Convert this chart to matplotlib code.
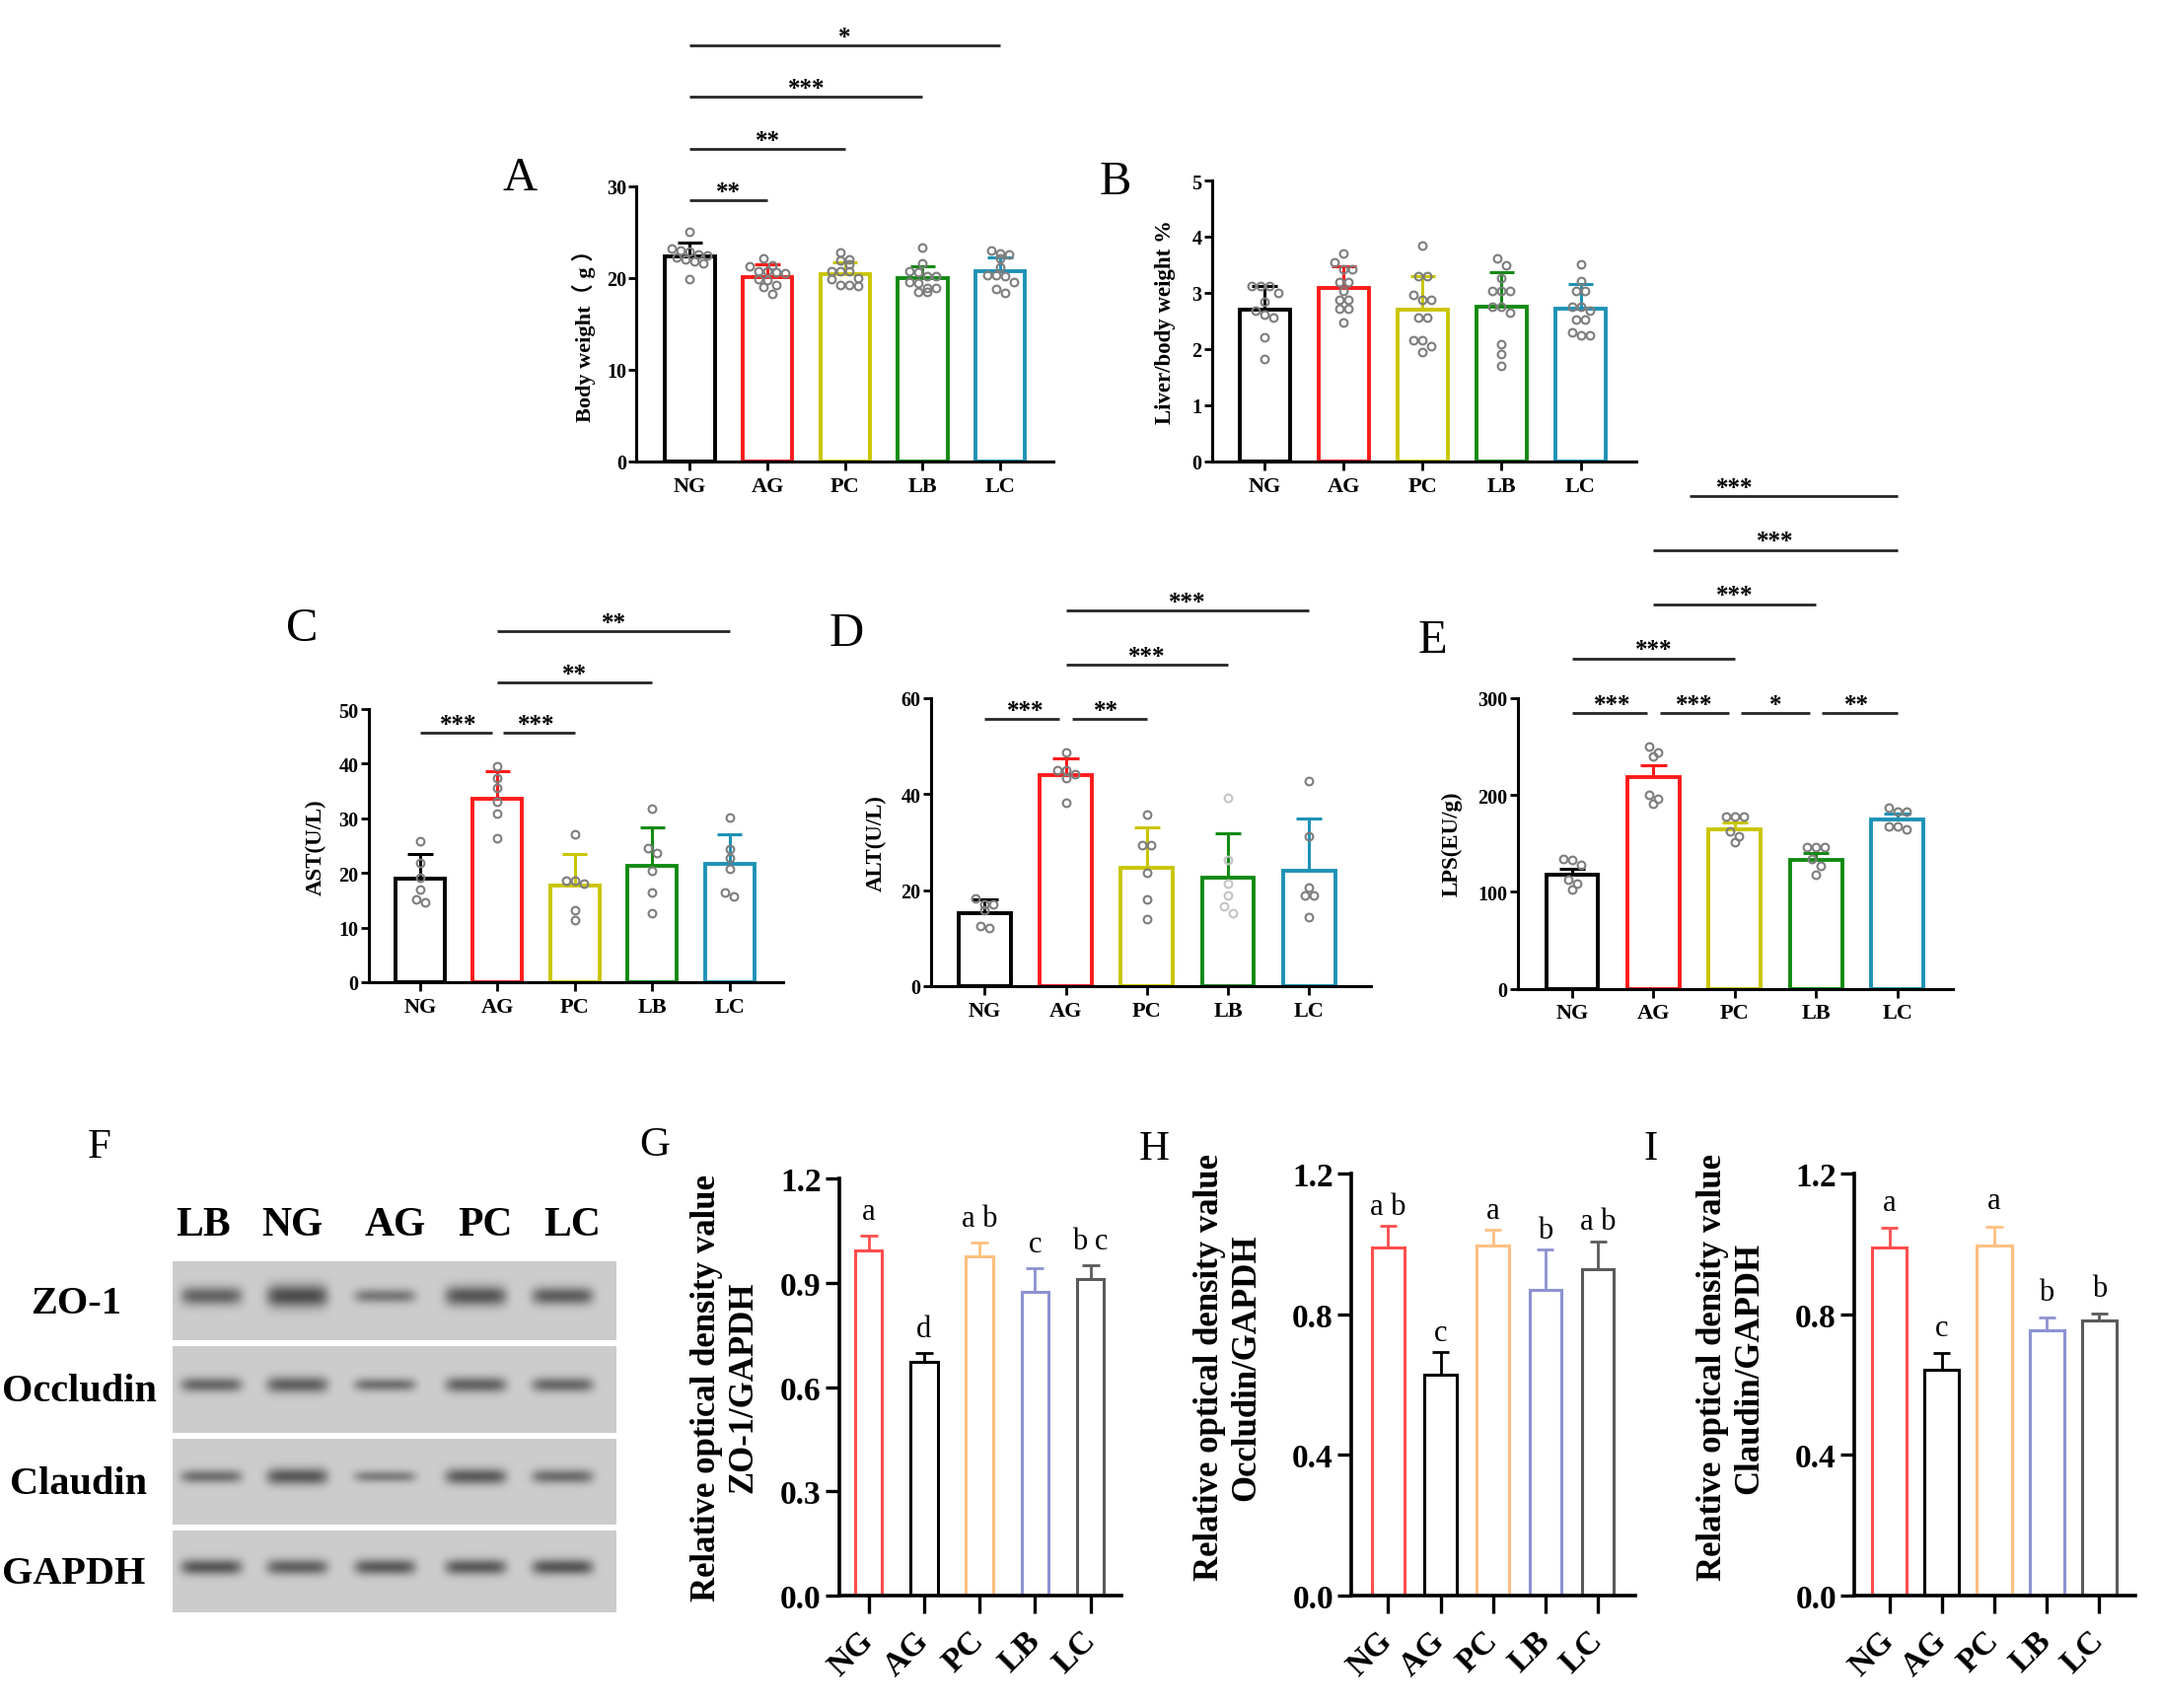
import numpy as np
import matplotlib
matplotlib.use('Agg')
import matplotlib.pyplot as plt

W, H = 2191, 1733
DPI = 100
plt.rcParams['font.family'] = ['Liberation Serif', 'Noto Sans CJK SC', 'DejaVu Sans']

groups = ['NG', 'AG', 'PC', 'LB', 'LC']

# ---------------- Panel A : body weight ----------------
a_mean = [22.4, 20.1, 20.4, 19.95, 20.7]
a_sd = [1.45, 1.4, 1.3, 1.35, 1.6]
a_pts = [[25.0, 23.2, 23.0, 22.9, 22.6, 22.5, 22.3, 22.0, 21.8, 21.6, 19.9],
         [22.2, 21.4, 21.3, 20.8, 20.7, 20.6, 20.5, 19.9, 19.8, 19.2, 19.0, 18.3],
         [22.8, 22.0, 21.9, 21.5, 20.8, 20.8, 20.7, 20.0, 19.9, 19.2, 19.2, 19.1],
         [23.3, 21.6, 20.7, 20.6, 20.2, 20.2, 19.6, 19.5, 18.9, 18.9, 18.5, 18.5],
         [23.0, 22.7, 22.6, 22.1, 21.2, 20.3, 20.3, 20.2, 19.6, 18.8, 18.4]]
a_sig = [(0, 1, 28.5, '**', None), (0, 2, 34.1, '**', None),
         (0, 3, 39.8, '***', None), (0, 4, 45.4, '*', None)]

# ---------------- Panel B : liver / body weight ----------------
b_mean = [2.70, 3.08, 2.70, 2.75, 2.72]
b_sd = [0.42, 0.40, 0.60, 0.62, 0.43]
b_pts = [[3.12, 3.12, 3.12, 3.00, 2.85, 2.68, 2.62, 2.56, 2.21, 1.83],
         [3.70, 3.55, 3.42, 3.42, 3.20, 3.20, 3.03, 2.88, 2.88, 2.72, 2.72, 2.47],
         [3.85, 3.29, 3.29, 2.97, 2.88, 2.88, 2.56, 2.56, 2.15, 2.15, 2.06, 1.94],
         [3.61, 3.50, 3.26, 3.03, 3.03, 3.03, 2.75, 2.75, 2.65, 2.09, 1.91, 1.71],
         [3.51, 3.21, 3.04, 3.04, 2.75, 2.75, 2.68, 2.53, 2.53, 2.30, 2.24, 2.24]]

# ---------------- Panel C : AST ----------------
c_mean = [18.9, 33.6, 17.7, 21.3, 21.6]
c_sd = [4.5, 5.0, 5.7, 7.0, 5.4]
c_pts = [[25.9, 21.9, 19.2, 16.9, 15.1, 14.7],
         [39.5, 37.4, 35.6, 33.0, 30.8, 26.4],
         [27.0, 18.6, 18.6, 18.1, 13.2, 11.4],
         [31.7, 24.6, 23.7, 20.4, 16.5, 12.7],
         [30.2, 24.3, 22.7, 20.8, 16.5, 15.7]]
c_sig = [(0, 1, 45.6, '***', None), (1, 2, 45.6, '***', None),
         (1, 3, 54.8, '**', None), (1, 4, 64.2, '**', None)]

# ---------------- Panel D : ALT ----------------
d_mean = [15.2, 43.9, 24.7, 22.6, 24.0]
d_sd = [2.8, 3.6, 8.4, 9.2, 10.9]
d_pts = [[18.3, 17.0, 17.0, 15.9, 12.6, 12.1],
         [48.7, 45.0, 45.0, 44.1, 43.4, 38.2],
         [35.8, 29.4, 29.4, 23.7, 18.1, 14.0],
         [39.2, 26.4, 21.4, 18.9, 16.6, 15.2],
         [42.7, 31.2, 20.6, 19.0, 19.0, 14.3]]
d_sig = [(0, 1, 55.6, '***', None), (1, 2, 55.6, '**', None),
         (1, 3, 66.9, '***', None), (1, 4, 78.2, '***', None)]

# ---------------- Panel E : LPS ----------------
e_mean = [117.6, 218.0, 165.0, 132.5, 174.5]
e_sd = [5.9, 12.6, 6.8, 7.9, 5.9]
e_pts = [[134, 133, 128, 113, 108, 102],
         [250, 244, 240, 200, 196, 191],
         [178, 178, 178, 162, 157, 151],
         [146, 146, 146, 134, 127, 118],
         [187, 183, 183, 168, 168, 165]]
e_sig = [(0, 1, 285.1, '***', None), (1, 2, 285.1, '***', None),
         (2, 3, 285.1, '*', None), (3, 4, 285.1, '**', None),
         (0, 2, 341.2, '***', None), (1, 3, 397.2, '***', None),
         (1, 4, 453.3, '***', None), (1.45, 4, 509.0, '***', 2.0)]

# ---------------- Panel F : western blot ----------------
blot_proteins = ['ZO-1', 'Occludin', 'Claudin', 'GAPDH']
blot_lanes = ['LB', 'NG', 'AG', 'PC', 'LC']
band_strength = [[0.78, 0.95, 0.62, 0.88, 0.82],
                 [0.74, 0.80, 0.68, 0.78, 0.74],
                 [0.68, 0.86, 0.58, 0.84, 0.70],
                 [0.86, 0.80, 0.84, 0.85, 0.88]]
band_thick = [[1.10, 1.35, 0.85, 1.20, 1.05],
              [0.90, 1.00, 0.80, 0.95, 0.90],
              [0.80, 1.00, 0.70, 0.95, 0.85],
              [0.95, 0.95, 0.95, 0.95, 0.95]]

# ---------------- Panels G, H, I ----------------
g_mean = [0.992, 0.673, 0.976, 0.873, 0.911]
g_err = [0.043, 0.025, 0.041, 0.070, 0.040]
g_let = ['a', 'd', 'a b', 'c', 'b c']
h_mean = [0.991, 0.627, 0.994, 0.870, 0.929]
h_err = [0.060, 0.065, 0.045, 0.113, 0.078]
h_let = ['a b', 'c', 'a', 'b', 'a b']
i_mean = [0.991, 0.641, 0.996, 0.754, 0.781]
i_err = [0.054, 0.049, 0.054, 0.037, 0.021]
i_let = ['a', 'c', 'a', 'b', 'b']

ae_colors = ['#000000', '#ff1a1a', '#c9c500', '#138a13', '#1e92b6']
gi_colors = ['#ff4d4d', '#000000', '#ffbf80', '#8c92d2', '#5a5a5a']

fig = plt.figure(figsize=(W / DPI, H / DPI), dpi=DPI)


def add_panel(axis_x, ng_x, sp, right_x, top_y, bottom_y):
    ax = fig.add_axes([axis_x / W, 1 - bottom_y / H,
                       (right_x - axis_x) / W, (bottom_y - top_y) / H])
    ax.set_xlim((axis_x - ng_x) / sp, (right_x - ng_x) / sp)
    return ax


def ftext(x, y, s, **kw):
    return fig.text(x / W, 1 - y / H, s, **kw)


def style_axes(ax, ymax, yticks, ylabels, spw, tw, ylen, xlen, ypad, xpad, yls, xls):
    ax.set_ylim(0, ymax)
    ax.set_yticks(yticks)
    ax.set_yticklabels(ylabels)
    ax.set_xticks(range(len(groups)))
    ax.set_xticklabels(groups)
    for s in ['top', 'right']:
        ax.spines[s].set_visible(False)
    for s in ['left', 'bottom']:
        ax.spines[s].set_linewidth(spw)
        ax.spines[s].set_zorder(6)
    ax.tick_params(axis='y', length=ylen, width=tw, pad=ypad, labelsize=yls)
    ax.tick_params(axis='x', length=xlen, width=tw, pad=xpad, labelsize=xls)
    for lab in ax.get_xticklabels() + ax.get_yticklabels():
        lab.set_fontweight('bold')
    ax.patch.set_alpha(0)


def draw_bars(ax, means, errs, colors, width, lw, cap, elw):
    x = np.arange(len(means))
    ax.bar(x, means, width=width, facecolor='none', edgecolor=colors,
           linewidth=lw, zorder=2)
    for xi, m, e, c in zip(x, means, errs, colors):
        ax.plot([xi, xi], [m, m + e], color=c, lw=elw, solid_capstyle='butt', zorder=3)
        ax.plot([xi - cap, xi + cap], [m + e, m + e], color=c, lw=elw,
                solid_capstyle='butt', zorder=3)


def swarm_x(ax, values, xc, d_px):
    vals = np.asarray(values, float)
    order = np.argsort(-vals, kind='stable')
    pts = np.column_stack([np.full(len(vals), float(xc)), vals])
    ypx = ax.transData.transform(pts)[:, 1]
    unit = ax.transData.transform([[xc + 1, 0]])[0, 0] - ax.transData.transform([[xc, 0]])[0, 0]
    xs = np.full(len(vals), float(xc))
    clusters, cur = [], [order[0]]
    for idx in order[1:]:
        if abs(ypx[idx] - ypx[cur[0]]) < d_px * 0.85:
            cur.append(idx)
        else:
            clusters.append(cur)
            cur = [idx]
    clusters.append(cur)
    for cl in clusters:
        n = len(cl)
        for k, idx in enumerate(cl):
            xs[idx] = xc + (k - (n - 1) / 2) * d_px / unit
    return xs


def draw_points(ax, pts_list, colors=None):
    for i, p in enumerate(pts_list):
        c = '#7d7d7d' if colors is None else colors[i]
        xs = swarm_x(ax, p, i, 9.0)
        ax.plot(xs, p, 'o', ms=5.6, mfc='none', mec=c, mew=1.5, zorder=4, clip_on=False)


def draw_sig(ax, sigs, gap=0.075, lw=2.0, fs=18):
    for k, (i, j, y, lab, lx) in enumerate(sigs):
        x0, x1 = i, j
        for m, (i2, j2, y2, _l, _x) in enumerate(sigs):
            if m == k or y2 != y:
                continue
            if j2 == i:
                x0 = i + gap
            if i2 == j:
                x1 = j - gap
        ax.plot([x0, x1], [y, y], color='#262626', lw=lw, clip_on=False,
                solid_capstyle='butt')
        xm = (i + j) / 2 if lx is None else lx
        ax.annotate(lab, (xm, y), xytext=(0, 1.5), textcoords='offset points',
                    ha='center', va='baseline', fontsize=fs, fontweight='bold',
                    annotation_clip=False)


def ae_panel(geom, means, sds, pts, ymax, yticks, sig=None, pcolors=None):
    ax = add_panel(*geom)
    style_axes(ax, ymax, yticks, [str(t) for t in yticks], 2.2, 2.0, 5.5, 6.5, 2, 4,
               14.5, 16)
    draw_bars(ax, means, sds, ae_colors, 0.64, 2.8, 0.16, 2.2)
    draw_points(ax, pts, pcolors)
    if sig:
        draw_sig(ax, sig)
    return ax


axA = ae_panel((645.4, 699.4, 78.65, 1068, 190, 469), a_mean, a_sd, a_pts, 30,
               [0, 10, 20, 30], a_sig)
axB = ae_panel((1228.7, 1282.3, 80.06, 1658.6, 184, 469), b_mean, b_sd, b_pts, 5,
               [0, 1, 2, 3, 4, 5])
axC = ae_panel((374, 426, 78.4, 794, 720, 997), c_mean, c_sd, c_pts, 50,
               [0, 10, 20, 30, 40, 50], c_sig)
axD = ae_panel((944, 998.4, 82.2, 1390, 709, 1001), d_mean, d_sd, d_pts, 60,
               [0, 20, 40, 60], d_sig,
               pcolors=['#7d7d7d', '#7d7d7d', '#7d7d7d', '#c4c4c4', '#7d7d7d'])
axE = ae_panel((1538.5, 1594, 82.4, 1980, 709, 1003.5), e_mean, e_sd, e_pts, 300,
               [0, 100, 200, 300], e_sig)

# y labels A-E
ftext(592, 335, 'Body weight（ g ）', rotation=90, ha='center', va='center',
      fontsize=16, fontweight='bold')
ftext(1181, 327, 'Liver/body weight %', rotation=90, ha='center', va='center',
      fontsize=16.5, fontweight='bold')
ftext(320, 859, 'AST(U/L)', rotation=90, ha='center', va='center',
      fontsize=16.5, fontweight='bold')
ftext(888, 855, 'ALT(U/L)', rotation=90, ha='center', va='center',
      fontsize=16.5, fontweight='bold')
ftext(1472, 856, 'LPS(EU/g)', rotation=90, ha='center', va='center',
      fontsize=16.5, fontweight='bold')

# panel letters
for lab, x, y, fs in [('A', 509, 193, 35), ('B', 1115, 197, 35), ('C', 290, 650, 35),
                      ('D', 841, 655, 35), ('E', 1438, 662, 35), ('F', 89, 1174, 31),
                      ('G', 648, 1172, 31), ('H', 1155, 1176, 31), ('I', 1667, 1176, 31)]:
    ftext(x, y, lab, ha='left', va='baseline', fontsize=fs)

# ---------------- Panel F drawing ----------------
blot_x0, blot_x1 = 175, 625
row_boxes = [(1280, 1360), (1366, 1454), (1460, 1547), (1553, 1636)]
lane_px = [214, 301, 390, 482, 570]
lane_label_x = [206, 296, 401, 492, 580]
row_label_x = [77, 80, 80, 75]
bg_val = 0.80
for r, (y0, y1) in enumerate(row_boxes):
    ax = fig.add_axes([blot_x0 / W, 1 - y1 / H, (blot_x1 - blot_x0) / W, (y1 - y0) / H])
    hgt = y1 - y0
    wid = blot_x1 - blot_x0
    yy, xx = np.mgrid[0:hgt, 0:wid]
    img = np.full((hgt, wid), bg_val)
    yc = hgt * 0.44
    for l, lx in enumerate(lane_px):
        xc = lx - blot_x0
        shape = np.exp(-((xx - xc) / 31.0) ** 6) * np.exp(-((yy - yc) / (8.5 * band_thick[r][l])) ** 2)
        img -= (bg_val - 0.28) * band_strength[r][l] * shape
    ax.imshow(img, cmap='gray', vmin=0, vmax=1, aspect='auto', interpolation='bilinear')
    ax.set_axis_off()
    ftext(row_label_x[r], (y0 + y1) / 2 + 2, blot_proteins[r], ha='center', va='center',
          fontsize=29, fontweight='bold')
for l, lab in enumerate(blot_lanes):
    ftext(lane_label_x[l], 1243, lab, ha='center', va='center', fontsize=30,
          fontweight='bold')


# ---------------- Panels G-I ----------------
def gi_panel(geom, means, errs, letters, yticks, width, let_gap, ylab, lab_xy):
    ax = add_panel(*geom)
    style_axes(ax, 1.2, yticks, [f'{t:.1f}' for t in yticks], 2.6, 2.4, 10, 13, 3, 16,
               24, 24)
    for lab in ax.get_xticklabels():
        lab.set_rotation(45)
        lab.set_ha('right')
        lab.set_va('center')
        lab.set_rotation_mode('anchor')
    draw_bars(ax, means, errs, gi_colors, width, 2.2, 0.16, 2.0)
    for i, (m, e, t) in enumerate(zip(means, errs, letters)):
        ax.annotate(t, (i, m + e), xytext=(0, let_gap), textcoords='offset points',
                    ha='center', va='baseline', fontsize=22, annotation_clip=False)
    ftext(lab_xy[0], lab_xy[1], ylab, rotation=90, ha='center', va='center',
          fontsize=25, fontweight='bold', multialignment='center', linespacing=1.15)
    return ax


gi_panel((850.7, 880.7, 56.25, 1136.7, 1196, 1619), g_mean, g_err, g_let,
         [0.0, 0.3, 0.6, 0.9, 1.2], 0.49, 12,
         'Relative optical density value\nZO-1/GAPDH', (735, 1407))
gi_panel((1370, 1407.3, 53.2, 1658, 1191, 1619), h_mean, h_err, h_let,
         [0.0, 0.4, 0.8, 1.2], 0.61, 9,
         'Relative optical density value\nOccludin/GAPDH', (1245, 1387))
gi_panel((1880, 1915.7, 53.15, 2165, 1191, 1619), i_mean, i_err, i_let,
         [0.0, 0.4, 0.8, 1.2], 0.66, 13,
         'Relative optical density value\nClaudin/GAPDH', (1755, 1387))

fig.savefig('out.png', dpi=DPI)
